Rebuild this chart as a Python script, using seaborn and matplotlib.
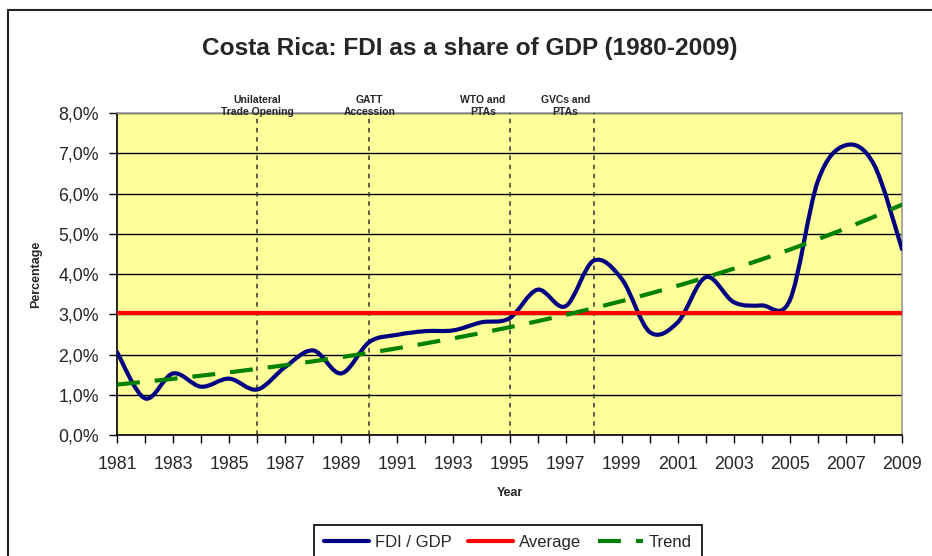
import numpy as np
import matplotlib
matplotlib.use("Agg")
import matplotlib.pyplot as plt
import seaborn as sns
import pandas as pd
from matplotlib.path import Path
from matplotlib.patches import PathPatch, Rectangle
from matplotlib.lines import Line2D
from matplotlib.transforms import blended_transform_factory
from matplotlib.ticker import FuncFormatter, MultipleLocator

# ---------------- data ----------------
years = list(range(1981, 2010))
fdi_gdp = [2.06, 0.91, 1.53, 1.20, 1.40, 1.13, 1.69, 2.10, 1.53, 2.31,
           2.49, 2.58, 2.60, 2.80, 2.90, 3.61, 3.20, 4.33, 3.88, 2.56,
           2.80, 3.92, 3.30, 3.22, 3.35, 6.31, 7.20, 6.72, 4.62]
event_years = [1986, 1990, 1995, 1998]
event_labels = ["Unilateral\nTrade Opening", "GATT\nAccession",
                "WTO and\nPTAs", "GVCs and\nPTAs"]
series_names = ["FDI / GDP", "Average", "Trend"]
title = "Costa Rica: FDI as a share of GDP (1980-2009)"

# ---------------- style ----------------
sns.set_style("white")
plt.rcParams["font.family"] = ["Liberation Sans", "DejaVu Sans"]

fig = plt.figure(figsize=(9.32, 5.56), dpi=100)
ax = fig.add_axes([117 / 932, 1 - 435 / 556, (902 - 117) / 932, (435 - 113) / 556])
ax.set_facecolor("#FFFF99")

df = pd.DataFrame({"year": years, "fdi": fdi_gdp})
avg = df["fdi"].mean()
# exponential trend line (fit on log values, as a spreadsheet exponential trendline)
b, a = np.polyfit(df["year"], np.log(df["fdi"]), 1)
df["avg"] = avg
df["trend"] = np.exp(a + b * df["year"])

# smoothed FDI line (Excel-like Bezier smoothing through data points)
x = df["year"].to_numpy(float)
y = df["fdi"].to_numpy(float)
n = len(x)
verts = [(x[0], y[0])]
codes = [Path.MOVETO]
for i in range(n - 1):
    p1 = np.array([x[i], y[i]])
    p2 = np.array([x[i + 1], y[i + 1]])
    p0 = np.array([x[i - 1], y[i - 1]]) if i > 0 else p1
    p3 = np.array([x[i + 2], y[i + 2]]) if i + 2 < n else p2
    c1 = p1 + (p2 - p0) / 6.0
    c2 = p2 - (p3 - p1) / 6.0
    verts += [tuple(c1), tuple(c2), tuple(p2)]
    codes += [Path.CURVE4] * 3
navy = "#000080"
ax.add_patch(PathPatch(Path(verts, codes), facecolor="none", edgecolor=navy,
                       lw=3, zorder=4, capstyle="round", joinstyle="round"))

sns.lineplot(data=df, x="year", y="avg", ax=ax, color="#FF0000", lw=3, zorder=5)
sns.lineplot(data=df, x="year", y="trend", ax=ax, color="#008000", lw=3,
             zorder=6, dashes=False)
ax.lines[-1].set_dashes([5.5, 3.6])

# event lines
for ev in event_years:
    ax.axvline(ev, color="#333333", lw=1.1, ls=(0, (3, 3)), zorder=3)
label_x = [1986, 1990, 1994.05, 1997.0]
tr = blended_transform_factory(ax.transData, ax.transAxes)
for lx, lab in zip(label_x, event_labels):
    ax.text(lx, 0.988, lab, transform=tr, ha="center", va="bottom",
            fontsize=7.5, fontweight="bold", linespacing=1.25)

# axes
ax.set_xlim(1981, 2009)
ax.set_ylim(0, 8)
ax.yaxis.set_major_locator(MultipleLocator(1))
ax.yaxis.set_major_formatter(FuncFormatter(lambda v, p: f"{v:.1f}".replace(".", ",") + "%"))
ax.set_xticks(years)
ax.set_xticklabels([str(yr) if (yr - 1981) % 2 == 0 else "" for yr in years])
ax.tick_params(axis="both", which="major", direction="out", length=6, width=1,
               color="black", labelsize=12.8, left=True, bottom=True)
ax.tick_params(axis="y", pad=7)
ax.tick_params(axis="x", pad=9)
ax.grid(axis="y", color="black", lw=1, zorder=1)
ax.grid(axis="x", visible=False)
ax.set_axisbelow(True)
for s in ["left", "bottom"]:
    ax.spines[s].set_color("black")
    ax.spines[s].set_linewidth(1.2)
for s in ["right", "top"]:
    ax.spines[s].set_color("#999999")
    ax.spines[s].set_linewidth(1.2)

ax.set_xlabel("Year", fontsize=9, fontweight="bold", labelpad=10)
ax.set_ylabel("Percentage", fontsize=9, fontweight="bold", labelpad=12)

fig.text(470 / 932, 1 - 49 / 556, title, ha="center", va="center",
         fontsize=17.6, fontweight="bold")

# legend
handles = [Line2D([], [], color=navy, lw=3),
           Line2D([], [], color="#FF0000", lw=3),
           Line2D([], [], color="#008000", lw=3, dashes=[5.5, 3.6])]
leg = fig.legend(handles, series_names, loc="upper center",
                 bbox_to_anchor=(508 / 932, 1 - 525 / 556), ncol=3,
                 fontsize=12, frameon=True, fancybox=False, edgecolor="black",
                 handlelength=2.7, handletextpad=0.35, columnspacing=1.0,
                 borderpad=0.6, borderaxespad=0)
leg.get_frame().set_linewidth(1.2)
leg.get_frame().set_alpha(1)

# outer chart frame
fig.add_artist(Rectangle((8 / 932, -0.2), 1.2, 1 - 10 / 556 + 0.2,
                         transform=fig.transFigure, fill=False,
                         edgecolor="#222222", lw=1.5))

fig.savefig("out.png", dpi=100)
